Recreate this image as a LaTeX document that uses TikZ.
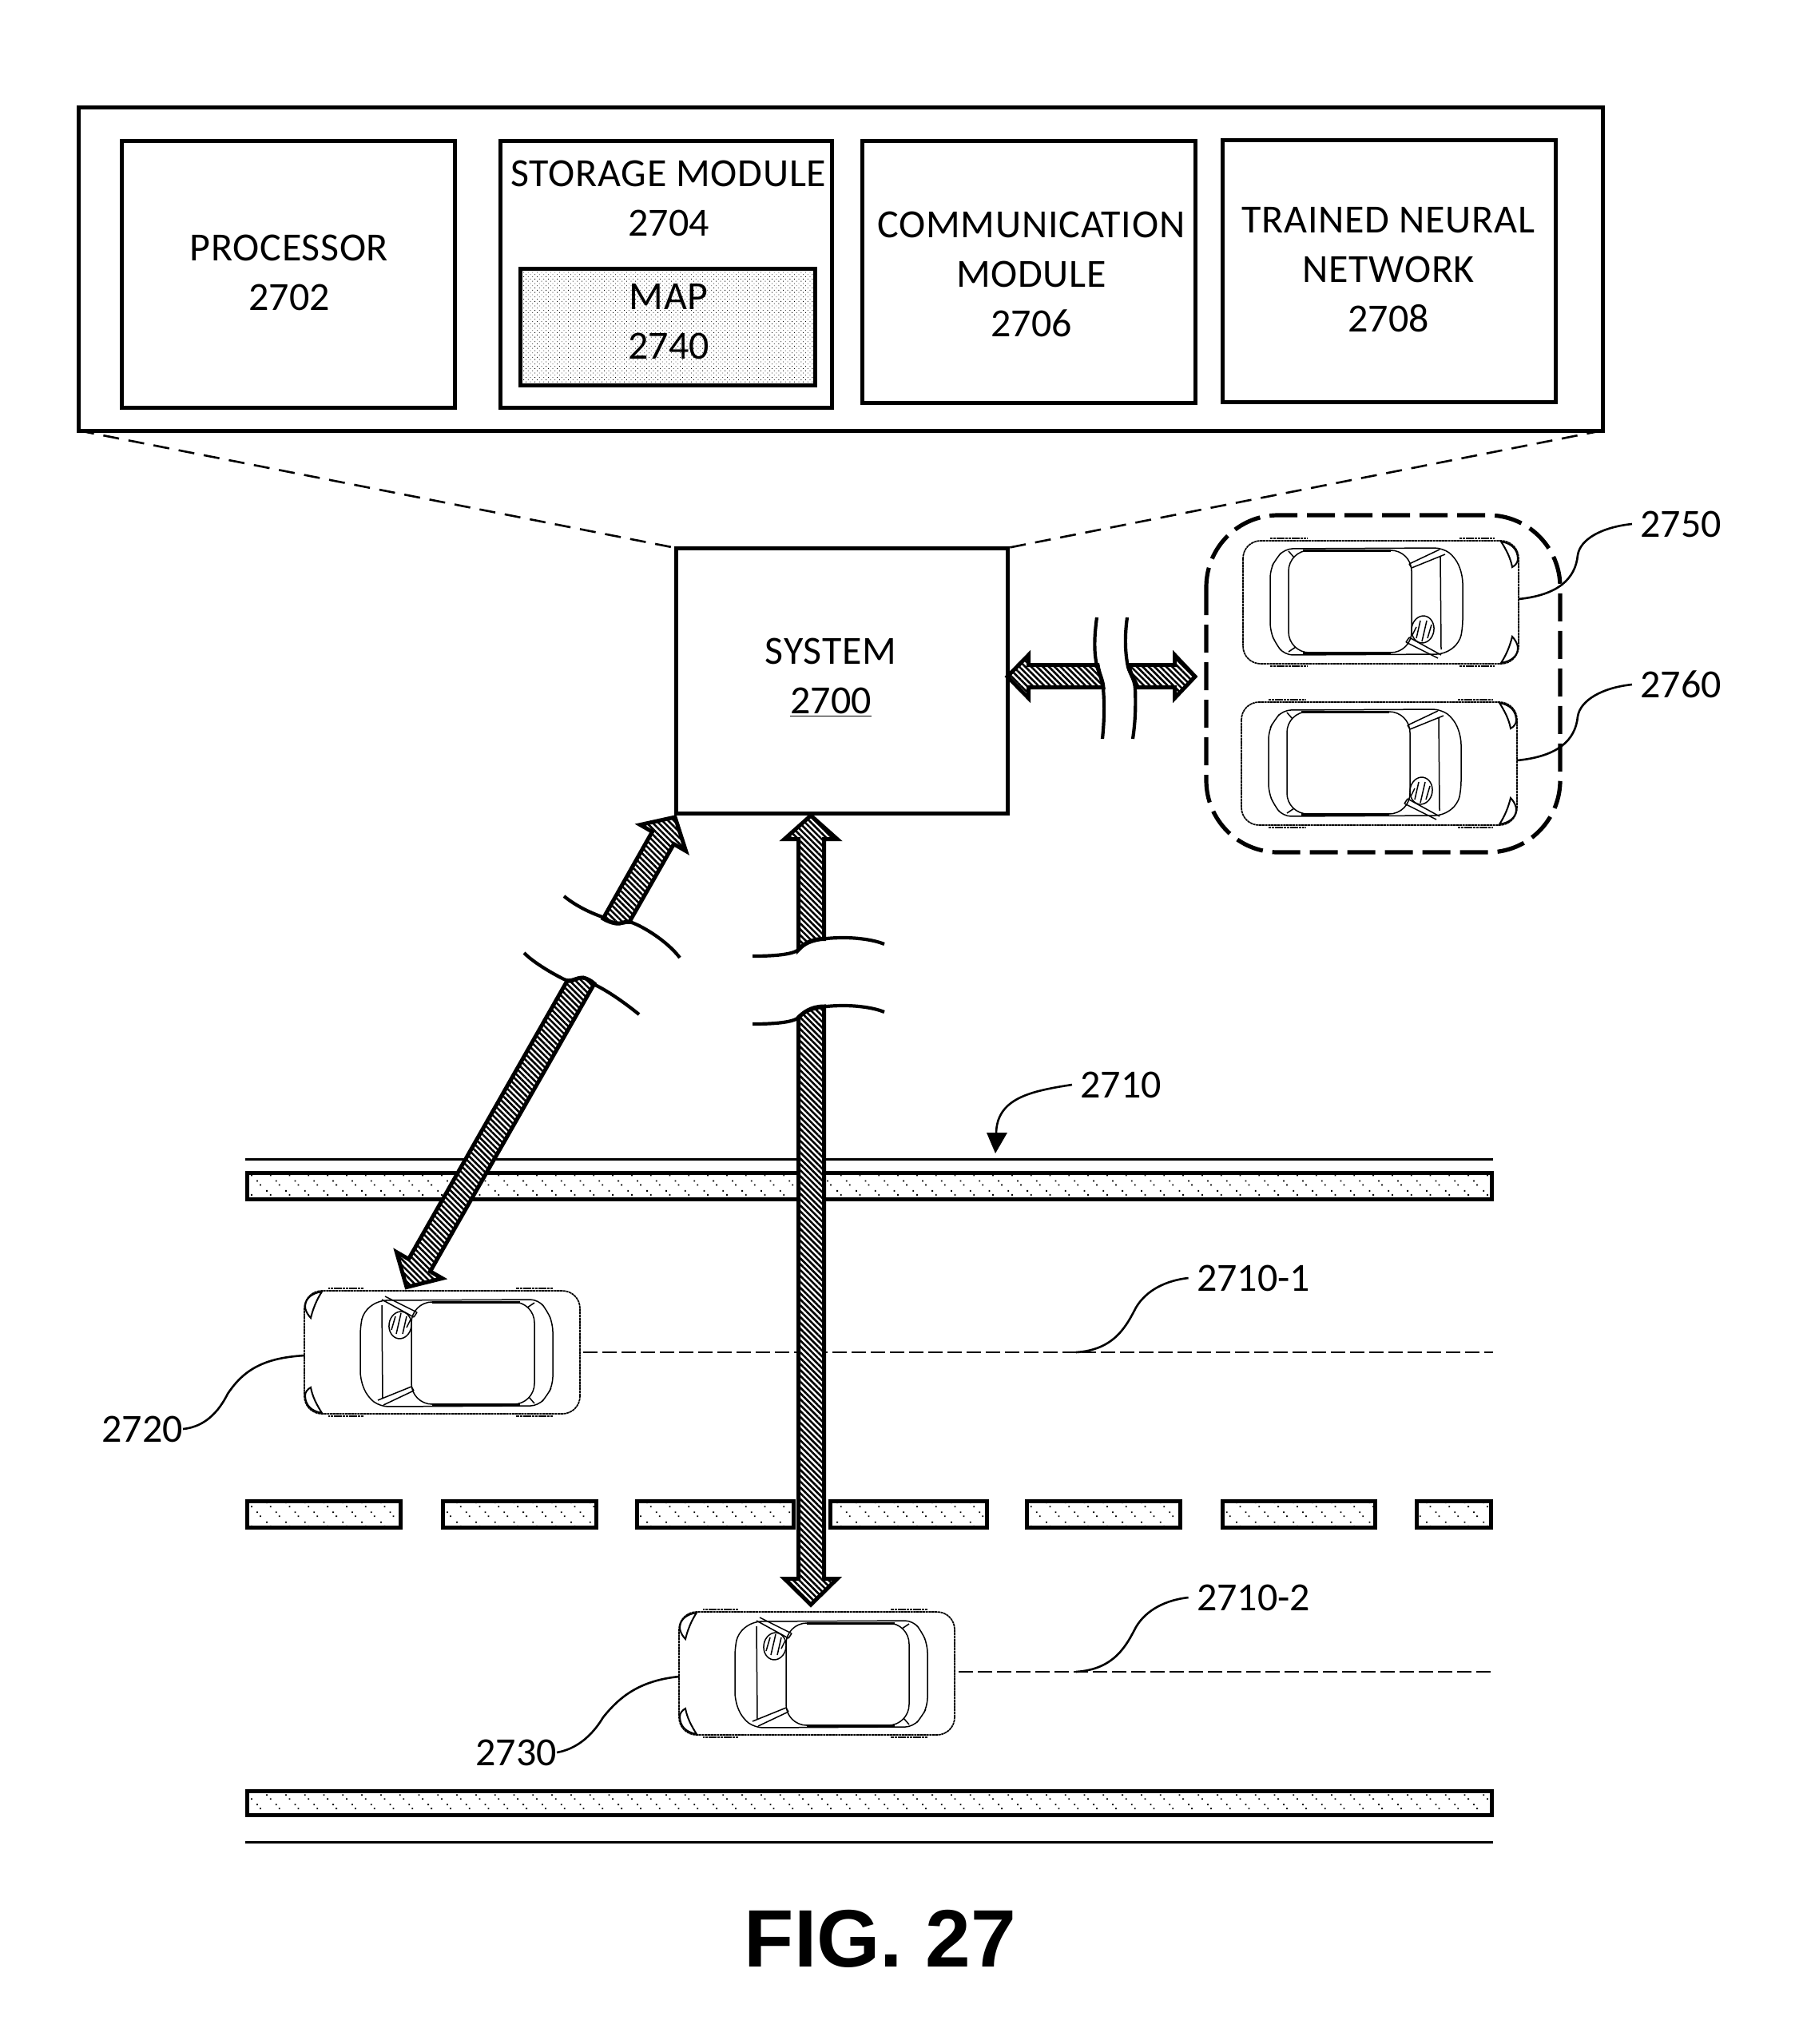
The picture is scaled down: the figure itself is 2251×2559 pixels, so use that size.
\documentclass[tikz,border=0pt]{standalone}
\usepackage{fontspec}
\setmainfont{Carlito}
\newfontfamily\figfont{Liberation Sans}
\newcommand{\wideset}[1]{{\addfontfeature{LetterSpace=1.5}#1}}
\usetikzlibrary{patterns,patterns.meta,fit,calc}

% Staggered fine dots for the map box
\pgfdeclarepatternformonly{mapdots}{\pgfqpoint{-.5pt}{-.5pt}}{\pgfqpoint{3.3pt}{3.3pt}}{\pgfqpoint{2.8pt}{2.8pt}}{
  \pgfpathrectangle{\pgfqpoint{0pt}{0pt}}{\pgfqpoint{.42pt}{.42pt}}
  \pgfpathrectangle{\pgfqpoint{1.4pt}{1.4pt}}{\pgfqpoint{.42pt}{.42pt}}
  \pgfusepath{fill}}
% Sparse slanted specks for the road markings
\pgfdeclarepatternformonly{roaddots}{\pgfqpoint{-.5pt}{-.5pt}}{\pgfqpoint{12.4pt}{12.7pt}}{\pgfqpoint{11.9pt}{12.2pt}}{
  \pgfpathrectangle{\pgfqpoint{0pt}{9pt}}{\pgfqpoint{.9pt}{.9pt}}
  \pgfpathrectangle{\pgfqpoint{2.3pt}{6.5pt}}{\pgfqpoint{.9pt}{.9pt}}
  \pgfpathrectangle{\pgfqpoint{5.8pt}{3pt}}{\pgfqpoint{.9pt}{.9pt}}
  \pgfpathrectangle{\pgfqpoint{7.8pt}{.5pt}}{\pgfqpoint{.9pt}{.9pt}}
  \pgfusepath{fill}}

\tikzset{
  box/.style={draw,line width=2.5pt,fill=white,inner sep=0pt,outer sep=0pt},
  caption/.style={font=\fontsize{25}{31}\selectfont,align=center,inner sep=0pt},
  tag/.style={font=\fontsize{25}{31}\selectfont,inner sep=5pt},
  tighttag/.style={font=\fontsize{25}{31}\selectfont,inner sep=0pt},
  hatched/.style={line width=2.5pt,miter limit=10,preaction={fill=white},
    pattern={Lines[angle=-45,distance=2.6pt,line width=1.3pt]}},
  gapline/.style={line width=2.1pt},
  leader/.style={line width=1.3pt},
  lane/.style={line width=1.3pt,dash pattern=on 9pt off 3pt},
  zoomline/.style={line width=1.3pt,dash pattern=on 10pt off 6pt},
  road/.style={draw,line width=2.5pt,pattern=roaddots},
  carline/.style={line width=.75pt},
  carbody/.style={line width=.85pt,dash pattern=on 1.6pt off .3pt},
  vehicle/.pic={
    % body shell and wheel arches
    \draw[carbody,rounded corners=11pt] (0,0) rectangle (345,154);
    \draw[carbody,line width=1pt] (34,-3) -- (80,-3) (271,-3) -- (315,-3)
      (34,157) -- (80,157) (271,157) -- (315,157);
    % cabin outline
    \draw[carline,rounded corners=5pt] (52,10) -- (250,9) -- (266,21) -- (275,43) -- (275,109) -- (271,128)
      -- (252,142) -- (52,143) -- (41,129) -- (34,113) -- (34,36) -- (41,23) -- cycle;
    % roof
    \draw[carline,rounded corners=13pt] (57,12) rectangle (211,140);
    \draw[line width=1.5pt] (75,12) -- (185,12) (75,140) -- (185,140);
    \draw[carline] (57,13) -- (64,21) (57,139) -- (66,133);
    % windscreen frame
    \draw[carline] (208,29) -- (246,11) (211,34) -- (253,17)
      (208,29) -- (211,34) (247,19) -- (248,136)
      (208,121) -- (248,143) (204,127) -- (244,147) (208,121) -- (204,127);
    % steering wheel
    \draw[carline,rotate around={-8:(225,111)}] (225,111) ellipse [x radius=14,y radius=17];
    \draw[carline] (217,122) -- (222,100) (224,126) -- (230,100) (231,122) -- (236,105)
      (212,118) -- (217,108);
    % corner lamps
    \draw[carline,line width=1pt] (323,1) .. controls (335,3) and (344,10) .. (344,23)
      .. controls (344,27) and (341,31) .. (337,33) .. controls (335,22) and (330,12) .. (323,1) -- cycle;
    \draw[carline,line width=1pt] (337,120) .. controls (341,124) and (344,130) .. (344,134)
      .. controls (344,145) and (335,151) .. (323,153) .. controls (330,142) and (334,132) .. (337,120) -- cycle;
    \coordinate (-east) at (345,73);
    \coordinate (-west) at (0,73);
  }
}

\begin{document}
\begin{tikzpicture}[x=.5pt,y=-.5pt]
\useasboundingbox (0,0) rectangle (2251,2559);

% Enlarged view of the system and its modules
\node[box,fit={(98,134)(2006,539)}] (outer) {};
\node[box,fit={(152,176)(569,510)}] (proc) {};
\node[box,fit={(626,176)(1041,510)}] (stor) {};
\node[box,pattern=mapdots,fit={(651,336)(1020,482)}] (map) {};
\node[box,fit={(1079,176)(1496,504)}] (comm) {};
\node[box,fit={(1530,175)(1947,503)}] (tnn) {};
\node[caption] (proct) at (362,341) {\wideset{PROCESSOR}\\2702};
\node[caption] (stort) at (837,248) {\wideset{STORAGE MODULE}\\2704};
\node[caption] (mapt) at (837,403) {\wideset{MAP}\\2740};
\node[caption] (commt) at (1291,343) {\wideset{COMMUNICATION}\\\wideset{MODULE}\\2706};
\node[caption] (tnnt) at (1738,338) {\wideset{TRAINED NEURAL}\\\wideset{NETWORK}\\2708};

% System block
\node[box,fit={(846,686)(1261,1018)}] (sys) {};
\node[caption] (syst) at (1040,848) {\wideset{SYSTEM}\\\underline{2700}};
\draw[zoomline] (outer.south west) -- (sys.north west);
\draw[zoomline] (outer.south east) -- (sys.north east);

% Road with its markings
\draw[line width=1.5pt] (307,1451) -- (1869,1451) (307,2306) -- (1869,2306);
\path[road] (309,1468.5) rectangle (1867,1501.5);
\path[road] (309,2242) rectangle (1867,2272.5);
\foreach \a/\b in {307/504,552/749,795/996,1037/1238,1283/1480,1528/1724,1771/1869}
  \path[road] ($(\a,1879.5)+(2.5,0)$) rectangle ($(\b,1912.5)+(-2.5,0)$);

% Vehicles
\pic (car2720) [rotate=180] at (726,1770) {vehicle};
\pic (car2730) [rotate=180] at (1195,2172) {vehicle};
\pic (car2750) at (1556,677) {vehicle};
\pic (car2760) at (1554,879) {vehicle};

% Group outline around the two remote vehicles
\draw[line width=2.6pt,rounded corners=45pt,dash pattern=on 17.5pt off 6pt]
  (1510,645) rectangle (1953,1067);

% Lane centre lines
\coordinate (lane1) at (1347,1693);
\coordinate (lane2) at (1347,2093);
\coordinate (laneEnd1) at (1869,1693);
\coordinate (laneEnd2) at (1869,2093);
\draw[lane] (730,1693) -- (laneEnd1);
\draw[lane] (1200,2093) -- (laneEnd2);

% Reference numerals
\node[tag] (l2750) at (2104,656) {2750};
\node[tag] (l2760) at (2104,857) {2760};
\node[tag] (l2710) at (1403,1358) {2710};
\node[tag] (l27101) at (1569,1600) {2710-1};
\node[tag] (l27102) at (1569,2000) {2710-2};
\node[tighttag] (l2720) at (178,1789) {2720};
\node[tighttag] (l2730) at (646,2194) {2730};

% Leaders
\draw[leader] (car2750-east) .. controls (1950,745) and (1972,725) .. (1975,695)
  .. controls (1978,675) and (2005,660) .. (l2750.west);
\draw[leader] (car2760-east) .. controls (1950,947) and (1972,927) .. (1975,897)
  .. controls (1978,877) and (2005,861) .. (l2760.west);
\draw[leader] (lane1) .. controls (1395,1690) and (1410,1660) .. (1422,1637)
  .. controls (1435,1615) and (1460,1603) .. (l27101.west);
\draw[leader] (lane2) .. controls (1395,2090) and (1410,2060) .. (1422,2037)
  .. controls (1435,2015) and (1460,2003) .. (l27102.west);
\draw[leader] (car2720-east) .. controls (330,1700) and (305,1715) .. (285,1745)
  .. controls (270,1775) and (250,1787) .. (l2720.east);
\draw[leader] (car2730-east) .. controls (800,2104) and (775,2125) .. (755,2150)
  .. controls (740,2175) and (720,2190) .. (l2730.east);
\coordinate (roadTip) at (1246,1444);
\draw[leader] (l2710.west) .. controls (1290,1366) and (1247,1375) .. (1247,1420);
\fill (1235,1418) -- (1261,1418) -- (roadTip) -- cycle;

% Link from the vehicle on the first lane, broken along its length
\draw[hatched] (755,1150) .. controls (762,1154) and (770,1157) .. (776,1156)
  .. controls (780,1155) and (784,1154) .. (788,1154) -- (843.5,1056.7) -- (858.6,1065.4)
  -- (845,1023) -- (801.4,1032.6) -- (816.5,1041.3) -- cycle;
\draw[hatched] (710,1228) .. controls (716,1230) and (720,1224) .. (730,1224)
  .. controls (738,1226) and (742,1230) .. (744,1231.5) -- (538.5,1591.7) -- (553.6,1600.4)
  -- (509,1611.5) -- (496.4,1567.6) -- (511.5,1576.3) -- cycle;
\draw[gapline] (706,1122) .. controls (722,1135) and (740,1143) .. (754,1148)
  .. controls (762,1153) and (770,1157) .. (776,1156) .. controls (782,1155) and (786,1154) .. (791,1155)
  .. controls (805,1160) and (835,1178) .. (851,1199);
\draw[gapline] (656,1193) .. controls (668,1205) and (690,1218) .. (706,1226)
  .. controls (714,1230) and (720,1224) .. (730,1224) .. controls (738,1226) and (742,1230) .. (745,1233)
  .. controls (765,1243) and (785,1258) .. (800,1270);

% Link from the vehicle on the second lane, broken along its length
\draw[hatched] (999.5,1189) -- (999.5,1050.5) -- (982,1050.5) -- (1015,1021) -- (1048,1050.5)
  -- (1031.5,1050.5) -- (1031.5,1175.5) .. controls (1015,1175) and (1005,1183) .. cycle;
\draw[hatched] (999.5,1274) -- (999.5,1976.5) -- (982,1976.5) -- (1015,2009) -- (1048,1976.5)
  -- (1031.5,1976.5) -- (1031.5,1260) .. controls (1015,1260) and (1005,1268) .. cycle;
\draw[gapline] (942,1197) .. controls (975,1197) and (992,1194) .. (998,1190)
  .. controls (1005,1183) and (1015,1174) .. (1056,1174) .. controls (1075,1174) and (1095,1177) .. (1107,1182);
\draw[gapline] (942,1282) .. controls (975,1282) and (992,1279) .. (998,1275)
  .. controls (1005,1268) and (1015,1259) .. (1056,1259) .. controls (1075,1259) and (1095,1262) .. (1107,1267);

% Link to the remote vehicles, broken along its length
\draw[hatched] (1261,847) -- (1287.5,820) -- (1287.5,832.5) -- (1374,832.5)
  .. controls (1376,845) and (1380,850) .. (1381,860.5) -- (1287.5,860.5) -- (1287.5,874) -- cycle;
\draw[hatched] (1496,847) -- (1470.5,820) -- (1470.5,832.5) -- (1413,832.5)
  .. controls (1415,845) and (1420,850) .. (1424,860.5) -- (1470.5,860.5) -- (1470.5,874) -- cycle;
\draw[gapline] (1373,773) .. controls (1370,795) and (1369,815) .. (1373,833)
  .. controls (1376,845) and (1380,850) .. (1381,862) .. controls (1383,885) and (1382,905) .. (1380,925);
\draw[gapline] (1411,773) .. controls (1408,795) and (1408,815) .. (1412,835)
  .. controls (1415,845) and (1420,850) .. (1421,862) .. controls (1422,885) and (1421,905) .. (1418,925);

% Figure title
\node[inner sep=0pt,font=\figfont\bfseries\fontsize{51}{60}\selectfont] (fig) at (1102,2427) {FIG. 27};
\end{tikzpicture}
\end{document}
